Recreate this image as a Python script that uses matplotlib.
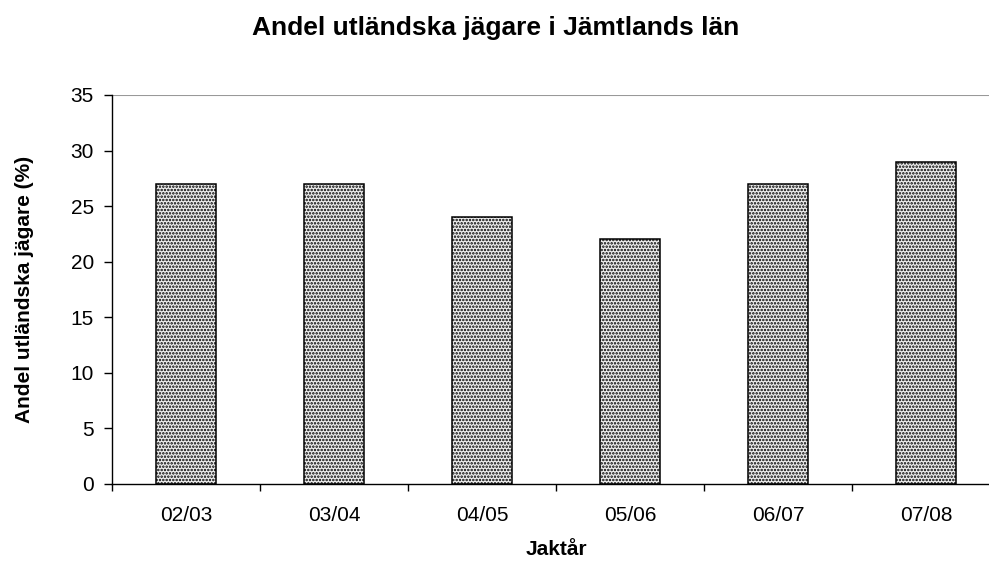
import matplotlib.pyplot as plt
import numpy as np

plt.rcParams['font.family'] = ['Liberation Sans', 'DejaVu Sans']
plt.rcParams['hatch.color'] = '#555555'
plt.rcParams['hatch.linewidth'] = 1.2

years = ["02/03", "03/04", "04/05", "05/06", "06/07", "07/08"]
shares = [27, 27, 24, 22, 27, 29]

fig = plt.figure(figsize=(9.89, 5.62), dpi=100)
# plot area runs a little past the right edge, as in the original
ax = fig.add_axes([0.1132, 0.1388, 0.8979, 0.6922])

x = np.arange(len(years))
ax.bar(x, shares, width=0.41, facecolor='#eeeeee', edgecolor='black',
       linewidth=1.1, hatch='.....', zorder=3)

ax.set_xlim(-0.5, len(years) - 0.5)
ax.set_ylim(0, 35)
ax.set_yticks(range(0, 36, 5))
ax.axhline(35, color='#999999', linewidth=1.5, zorder=1)

ax.set_xticks(x)
ax.set_xticklabels(years)
ax.set_xticks(np.arange(-0.5, len(years)), minor=True)
ax.tick_params(axis='x', which='major', length=0, pad=16, labelsize=15)
ax.tick_params(axis='x', which='minor', length=5, direction='out', width=1)
ax.tick_params(axis='y', length=6, direction='out', width=1, labelsize=15, pad=7)

for s in ['top', 'right']:
    ax.spines[s].set_visible(False)
ax.spines['left'].set_linewidth(1)
ax.spines['bottom'].set_linewidth(1)

ax.set_xlabel("Jaktår", fontweight='bold', fontsize=15, labelpad=11)
ax.set_ylabel("Andel utländska jägare (%)", fontweight='bold', fontsize=15, labelpad=26)
fig.text(0.5015, 0.9377, "Andel utländska jägare i Jämtlands län", fontweight='bold',
         fontsize=19, ha='center', va='baseline')

fig.savefig("out.png", dpi=100)
